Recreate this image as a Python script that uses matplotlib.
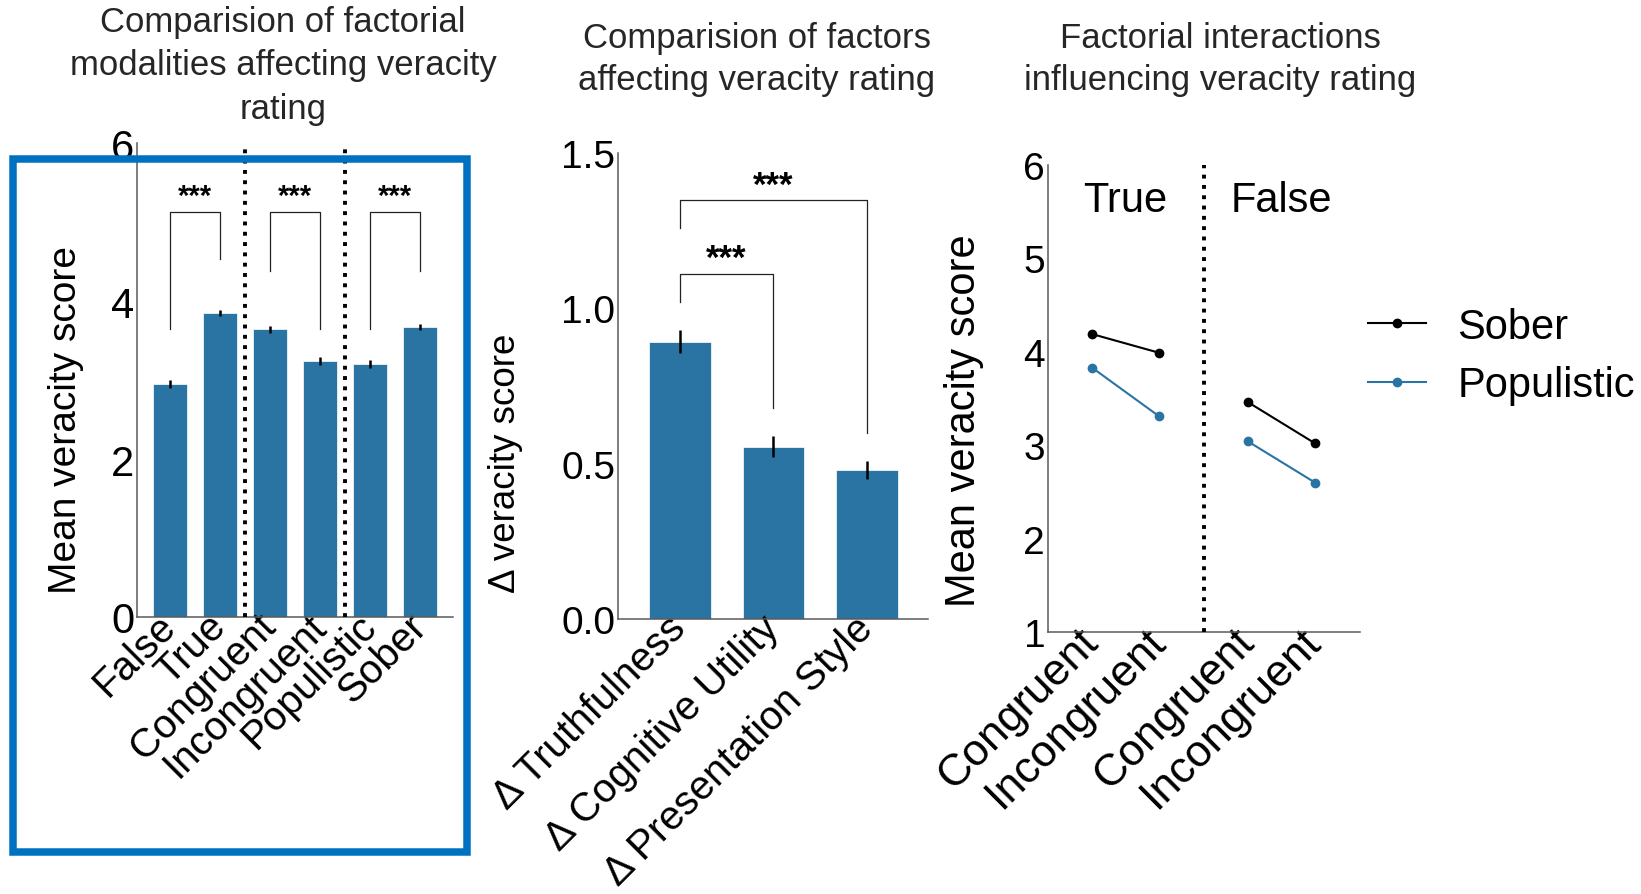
import matplotlib.pyplot as plt
from matplotlib.patches import Rectangle

plt.rcParams['font.family'] = ['Liberation Sans', 'DejaVu Sans']

BAR_BLUE = '#2a74a4'
SPINE = '#5a5a5a'
TITLE_COLOR = '#262626'

# left: individual factor levels
modalities = ['False', 'True', 'Congruent', 'Incongruent', 'Populistic', 'Sober']
modality_means = [2.95, 3.85, 3.64, 3.24, 3.20, 3.67]
modality_err = [0.05, 0.04, 0.04, 0.05, 0.05, 0.04]

# middle: differences per factor
factors = ['Δ Truthfulness', 'Δ Cognitive Utility', 'Δ Presentation Style']
factor_means = [0.893, 0.555, 0.48]
factor_err = [0.037, 0.035, 0.028]

# right: interaction (True block, then False block)
conditions = ['Congruent', 'Incongruent', 'Congruent', 'Incongruent']
condition_x = [0, 1, 2.33, 3.33]
sober_scores = [4.19, 3.99, 3.46, 3.02]
populistic_scores = [3.83, 3.31, 3.04, 2.60]


def style_axes(ax, ytick_size, xtick_size):
    for side in ['top', 'right']:
        ax.spines[side].set_visible(False)
    for side in ['left', 'bottom']:
        ax.spines[side].set_color(SPINE)
        ax.spines[side].set_linewidth(1.1)
    ax.tick_params(length=0, pad=2, colors='black')
    ax.tick_params(axis='y', labelsize=ytick_size)
    ax.tick_params(axis='x', labelsize=xtick_size)


def bracket(ax, x0, x1, top, left_low, right_low, star_y, size):
    ax.plot([x0, x0, x1, x1], [left_low, top, top, right_low],
            color='#222222', lw=0.9, zorder=3)
    ax.text((x0 + x1) / 2, star_y, '***', ha='center', va='baseline',
            fontsize=size, fontweight='bold', color='black')


fig = plt.figure(figsize=(16.41, 8.95), dpi=100)

# ---- panel 1
ax1 = fig.add_axes([0.0835, 0.3095, 0.1926, 0.5296])
x1 = range(len(modalities))
ax1.bar(x1, modality_means, width=0.68, color=BAR_BLUE, edgecolor='white', linewidth=0.5)
ax1.errorbar(x1, modality_means, yerr=modality_err, fmt='none', ecolor='black', elinewidth=1.8)
for xd in [1.5, 3.5]:
    ax1.plot([xd, xd], [0, 6], color='black', lw=2.8, ls=':', zorder=4)
bracket(ax1, 0, 1, 5.13, 3.65, 4.53, 5.23, 21)
bracket(ax1, 2, 3, 5.13, 4.38, 3.65, 5.23, 21)
bracket(ax1, 4, 5, 5.13, 3.65, 4.38, 5.23, 21)
ax1.set_xlim(-0.66, 5.66)
ax1.set_ylim(0, 6)
ax1.set_yticks([0, 2, 4, 6])
ax1.set_xticks(list(x1))
ax1.set_xticklabels(modalities, rotation=45, ha='right', va='center', rotation_mode='anchor')
style_axes(ax1, 30, 29)
ax1.set_ylabel('Mean veracity score', fontsize=28)
ax1.yaxis.set_label_coords(-0.169, 0.418)
fig.text(283 / 1641, 1 - 66 / 895,
         'Comparision of factorial\nmodalities affecting veracity\nrating',
         ha='center', va='center', fontsize=25, color=TITLE_COLOR, linespacing=1.4)

# ---- panel 2
ax2 = fig.add_axes([0.3766, 0.3073, 0.1889, 0.5207])
x2 = range(len(factors))
ax2.bar(x2, factor_means, width=0.66, color=BAR_BLUE, edgecolor='white', linewidth=0.5)
ax2.errorbar(x2, factor_means, yerr=factor_err, fmt='none', ecolor='black', elinewidth=1.8)
bracket(ax2, 0, 1, 1.11, 1.02, 0.68, 1.13, 25)
bracket(ax2, 0, 2, 1.35, 1.26, 0.60, 1.366, 25)
ax2.set_xlim(-0.66, 2.65)
ax2.set_ylim(0, 1.5)
ax2.set_yticks([0, 0.5, 1.0, 1.5])
ax2.set_yticklabels(['0.0', '0.5', '1.0', '1.5'])
ax2.set_xticks(list(x2))
ax2.set_xticklabels(factors, rotation=45, ha='right', va='center', rotation_mode='anchor')
style_axes(ax2, 28, 29)
ax2.set_ylabel('Δ veracity score', fontsize=26.5)
ax2.yaxis.set_label_coords(-0.306, 0.337)
fig.text(757 / 1641, 1 - 59.7 / 895,
         'Comparision of factors\naffecting veracity rating',
         ha='center', va='center', fontsize=25, color=TITLE_COLOR, linespacing=1.35)

# ---- panel 3
ax3 = fig.add_axes([0.6386, 0.2927, 0.1901, 0.5218])
ax3.plot(condition_x[:2], sober_scores[:2], color='black', marker='o', ms=6, lw=1.5, label='Sober')
ax3.plot(condition_x[2:], sober_scores[2:], color='black', marker='o', ms=6, lw=1.5)
ax3.plot(condition_x[:2], populistic_scores[:2], color=BAR_BLUE, marker='o', ms=6, lw=1.5, label='Populistic')
ax3.plot(condition_x[2:], populistic_scores[2:], color=BAR_BLUE, marker='o', ms=6, lw=1.5)
ax3.plot([1.67, 1.67], [1, 6], color='black', lw=2.8, ls=':', zorder=4)
ax3.text(0.5, 5.63, 'True', ha='center', va='center', fontsize=30)
ax3.text(2.83, 5.63, 'False', ha='center', va='center', fontsize=30)
ax3.set_xlim(-0.66, 4.0)
ax3.set_ylim(1, 6)
ax3.set_yticks([1, 2, 3, 4, 5, 6])
ax3.set_xticks(condition_x)
ax3.set_xticklabels(conditions, rotation=45, ha='right', va='center', rotation_mode='anchor')
style_axes(ax3, 28, 32)
ax3.set_ylabel('Mean veracity score', fontsize=30)
ax3.yaxis.set_label_coords(-0.205, 0.454)
fig.text(1220 / 1641, 1 - 59.7 / 895,
         'Factorial interactions\ninfluencing veracity rating',
         ha='center', va='center', fontsize=25, color=TITLE_COLOR, linespacing=1.35)

fig.legend(loc='center left', bbox_to_anchor=(1368 / 1641, 1 - 357 / 895),
           frameon=False, fontsize=30, handlelength=1.4, handletextpad=0.74,
           labelspacing=0.45, borderpad=0, borderaxespad=0, numpoints=1)

# frame around the first panel
fig.patches.append(Rectangle((0.00792, 0.0469), 0.2764, 0.7738, transform=fig.transFigure,
                             fill=False, edgecolor='#0070c0', linewidth=5.4, zorder=10))

fig.savefig('out.png', dpi=100)
